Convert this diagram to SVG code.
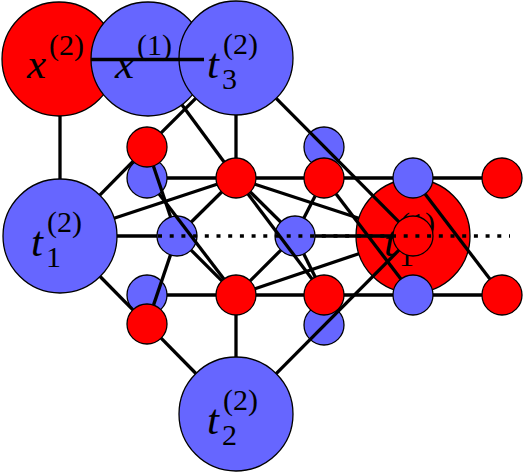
<svg xmlns="http://www.w3.org/2000/svg" width="524" height="473" viewBox="0 0 524 473">
<style>
.red{fill:#ff0000;stroke:#000;stroke-width:1.3}
.blue{fill:#6666ff;stroke:#000;stroke-width:1.3}
.e{stroke:#000;stroke-width:3.3;fill:none}
.dot{stroke:#000;stroke-width:3.3;fill:none;stroke-dasharray:4 7.7}
.mi{font-family:"Liberation Serif",serif;font-style:italic;font-size:43px;fill:#000}
.sc{font-family:"Liberation Serif",serif;font-size:30px;fill:#000}
</style>
<rect width="524" height="473" fill="#fff"/>
<g id="x2"><circle class="red" cx="59" cy="59" r="57"/></g>
<g id="x1"><circle class="blue" cx="148" cy="59" r="57"/></g>
<g id="t3"><circle class="blue" cx="236" cy="58" r="57"/></g>
<g id="t1"><circle class="blue" cx="60" cy="236" r="57"/></g>
<g id="t2"><circle class="blue" cx="236" cy="414" r="57"/></g>
<g id="t1p1"><circle class="red" cx="413" cy="236" r="57"/>
<text class="mi" x="384" y="256">t</text><text class="sc" x="399" y="266">1</text><text class="sc" x="400" y="233">(1)</text></g>
<g id="b1"><circle class="blue" cx="147" cy="178" r="20"/></g>
<g id="r1"><circle class="red" cx="147" cy="147" r="20"/></g>
<g id="r2"><circle class="red" cx="236" cy="178" r="20"/></g>
<g id="b2"><circle class="blue" cx="324" cy="147" r="20"/></g>
<g id="r3"><circle class="red" cx="324" cy="178" r="20"/></g>
<g id="b3"><circle class="blue" cx="413" cy="178" r="20"/></g>
<g id="r4"><circle class="red" cx="502" cy="178" r="20"/></g>
<g id="b4"><circle class="blue" cx="177" cy="236" r="20"/></g>
<g id="b5"><circle class="blue" cx="295" cy="236" r="20"/></g>
<g id="r5"><circle class="red" cx="413" cy="236" r="20"/></g>
<g id="b6"><circle class="blue" cx="147" cy="295" r="20"/></g>
<g id="r6"><circle class="red" cx="147" cy="324" r="20"/></g>
<g id="r7"><circle class="red" cx="236" cy="295" r="20"/></g>
<g id="b7"><circle class="blue" cx="324" cy="325" r="20"/></g>
<g id="r8"><circle class="red" cx="324" cy="295" r="20"/></g>
<g id="b8"><circle class="blue" cx="413" cy="295" r="20"/></g>
<g id="r9"><circle class="red" cx="502" cy="295" r="20"/></g>
<g id="connectors">
<path class="e" d="M60,116 L60,179"/>
<path class="e" d="M91,59.5 L204,59.5"/>
<path class="e" d="M236,115 L236,158"/>
<path class="e" d="M99.8,195.2 L133,161.3"/>
<path class="e" d="M161.1,132.9 L195.7,98.3"/>
<path class="e" d="M181.9,104.8 L224.1,161.9"/>
<path class="e" d="M276.2,98.4 L398.9,221.8"/>
<path class="e" d="M114.1,218.2 L217,184.3"/>
<path class="e" d="M117,236 L157,236"/>
<path class="e" d="M100.1,276.5 L132.9,309.8"/>
<path class="e" d="M161.1,338.2 L195.9,373.5"/>
<path class="e" d="M236,357 L236,315"/>
<path class="e" d="M276.2,373.6 L398.9,250.2"/>
<path class="e" d="M167,178 L216,178 M256,178 L304,178 M344,178 L393,178 M433,178 L482,178"/>
<path class="e" d="M167,295 L216,295 M256,295 L304,295 M344,295 L393,295 M433,295 L482,295"/>
<path class="e" d="M315,236 L393,236"/>
<path class="e" d="M255,184.2 L358.8,218.3"/>
<path class="e" d="M255,288.8 L358.8,253.7"/>
<path class="e" d="M336.1,193.9 L400.9,279.1"/>
<path class="e" d="M425.1,193.9 L489.9,279.1"/>
<path class="e" d="M153.4,166 L170.6,217"/>
<path class="e" d="M170.5,254.9 L153.5,305.1"/>
<path class="e" d="M191.3,222 L221.7,192"/>
<path class="e" d="M191.1,250.1 L221.9,280.9"/>
<path class="e" d="M159.1,193.9 L223.9,279.1"/>
<path class="e" d="M280.9,250.1 L250.1,280.9"/>
<path class="e" d="M250.3,192 L280.7,222"/>
<path class="e" d="M248,194 L312,279"/>
<path class="e" d="M303.8,254 L315.2,277"/>
<path class="e" d="M315.1,195.9 L303.9,218.1"/>
<path class="dot" d="M158,236 L510,236"/>
</g>
<g id="labels">
<text class="mi" x="27" y="78">x</text><text class="sc" x="49" y="55">(2)</text>
<text class="mi" x="115" y="78">x</text><text class="sc" x="137" y="55">(1)</text>
<text class="mi" x="207" y="78">t</text><text class="sc" x="222" y="89">3</text><text class="sc" x="223" y="54">(2)</text>
<text class="mi" x="31" y="256">t</text><text class="sc" x="46" y="267">1</text><text class="sc" x="47" y="232">(2)</text>
<text class="mi" x="207" y="434">t</text><text class="sc" x="222" y="445">2</text><text class="sc" x="223" y="410">(2)</text>
</g>
</svg>
